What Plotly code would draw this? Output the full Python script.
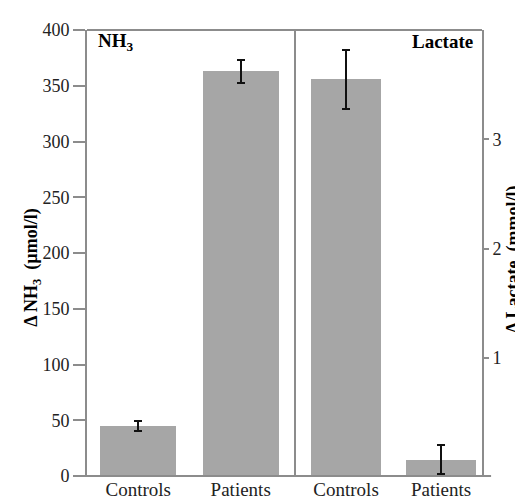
import plotly.graph_objects as go

# ---- data ----
categories = ["Controls", "Patients"]
nh3_values = [45, 363]          # µmol/l
nh3_errors = [4.5, 10.3]
lactate_values = [3.55, 0.07]   # mmol/l
lactate_errors = [0.27, 0.13]

nh3_ticks = [0, 50, 100, 150, 200, 250, 300, 350, 400]
lactate_ticks = [1, 2, 3]

# ---- style ----
BAR = "#a6a6a6"
AXIS = "#8c8c8c"
TXT = "#222222"
FONT = "Times New Roman"
LACT_MIN, LACT_MAX = -0.08, 4.0
DIV = 0.5266

fig = go.Figure()

fig.add_trace(go.Bar(
    x=[0, 1], y=nh3_values, xaxis="x", yaxis="y",
    marker=dict(color=BAR, line=dict(width=0)), width=0.74,
    error_y=dict(type="data", array=nh3_errors, color="#111111", thickness=2, width=4),
    showlegend=False, hoverinfo="y"))

fig.add_trace(go.Bar(
    x=[0, 1], y=[v - LACT_MIN for v in lactate_values], base=LACT_MIN,
    xaxis="x2", yaxis="y2",
    marker=dict(color=BAR, line=dict(width=0)), width=0.73,
    error_y=dict(type="data", array=lactate_errors, color="#111111", thickness=2, width=4),
    showlegend=False, hoverinfo="y"))


def tf(size=19):
    return dict(family=FONT, size=size, color=TXT)


fig.update_layout(
    width=523, height=504,
    margin=dict(l=79, r=49, t=22, b=31),
    paper_bgcolor="white", plot_bgcolor="white",
    font=dict(family=FONT, size=19, color=TXT),
    bargap=0,
    xaxis=dict(domain=[0, DIV], range=[-0.5, 1.53], tickvals=[0, 1], ticktext=categories,
               showgrid=False, zeroline=False, showline=False, ticks="",
               tickfont=tf(), anchor="y", fixedrange=True),
    xaxis2=dict(domain=[DIV, 1], range=[-0.537, 1.43], tickvals=[0, 1], ticktext=categories,
                showgrid=False, zeroline=False, showline=False, ticks="",
                tickfont=tf(), anchor="y2", fixedrange=True),
    yaxis=dict(range=[0, 400], tickvals=nh3_ticks, showgrid=False, zeroline=False,
               showline=True, linecolor=AXIS, linewidth=2,
               ticks="outside", ticklen=12, tickcolor=AXIS, tickwidth=1.5,
               tickfont=tf(18), anchor="x", fixedrange=True),
    yaxis2=dict(range=[LACT_MIN, LACT_MAX], tickvals=lactate_ticks, side="right",
                showgrid=False, zeroline=False,
                showline=True, linecolor=AXIS, linewidth=2,
                ticks="outside", ticklen=5, tickcolor=AXIS, tickwidth=1.5,
                tickfont=tf(18), anchor="x2", fixedrange=True),
    shapes=[
        dict(type="line", xref="paper", yref="paper", x0=0, x1=1, y0=1, y1=1,
             line=dict(color=AXIS, width=2)),
        dict(type="line", xref="paper", yref="paper", x0=DIV, x1=DIV, y0=0, y1=1,
             line=dict(color=AXIS, width=2)),
        dict(type="line", xref="paper", yref="paper", x0=-0.03, x1=1.023, y0=0, y1=0,
             line=dict(color=AXIS, width=2)),
    ],
    annotations=[
        dict(text="<b>NH<sub>3</sub></b>", xref="paper", yref="paper", x=0.022, y=0.972,
             xanchor="left", yanchor="middle", showarrow=False,
             font=dict(family=FONT, size=19, color="#000000")),
        dict(text="<b>Lactate</b>", xref="paper", yref="paper", x=0.982, y=0.975,
             xanchor="right", yanchor="middle", showarrow=False,
             font=dict(family=FONT, size=19, color="#000000")),
        dict(text="<b>\u0394 NH<sub>3</sub>  (µmol/l)</b>", xref="paper", yref="paper",
             x=-0.138, y=0.468, textangle=-90, xanchor="center", yanchor="middle",
             showarrow=False, font=dict(family=FONT, size=18, color="#000000")),
        dict(text="<b>\u0394 Lactate  (mmol/l)</b>", xref="paper", yref="paper",
             x=1.08, y=0.485, textangle=-90, xanchor="center", yanchor="middle",
             showarrow=False, font=dict(family=FONT, size=18, color="#000000")),
    ],
)

fig.write_html("out.html")
